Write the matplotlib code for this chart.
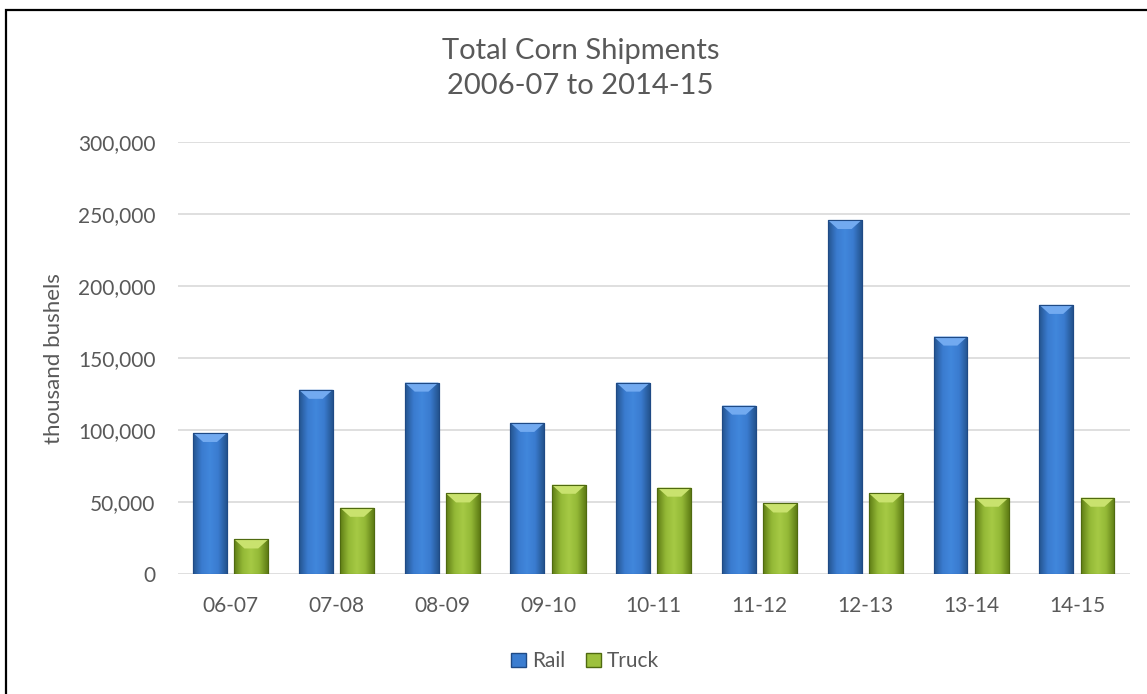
import numpy as np
import matplotlib
matplotlib.use("Agg")
import matplotlib.pyplot as plt
from matplotlib.patches import Polygon, Rectangle, Patch
from matplotlib.colors import LinearSegmentedColormap

plt.rcParams['font.family'] = ['Lato', 'DejaVu Sans']

seasons = ["06-07", "07-08", "08-09", "09-10", "10-11", "11-12", "12-13", "13-14", "14-15"]
rail = [98000, 128000, 133000, 105000, 133000, 117000, 246000, 165000, 187000]
truck = [24000, 46000, 56000, 62000, 60000, 49000, 56000, 53000, 53000]

text_grey = "#595959"

fig = plt.figure(figsize=(11.47, 6.94), dpi=100)
ax = fig.add_axes([0.155, 0.173, 0.830, 0.622])

x = np.arange(len(seasons))
w = 0.32
off = 0.195

rail_bars = ax.bar(x - off, rail, w, color="#3b7dd0", edgecolor="#1f4a85", linewidth=0.8, zorder=3)
truck_bars = ax.bar(x + off, truck, w, color="#9dc13d", edgecolor="#4f6a10", linewidth=0.8, zorder=3)

# bevel look: horizontal gradient plus lighter top facet
blue_cm = LinearSegmentedColormap.from_list("b", ["#24548f", "#3a7bcf", "#4187dc", "#3a7bcf", "#24548f"])
green_cm = LinearSegmentedColormap.from_list("g", ["#5f7d15", "#93b836", "#a6ca45", "#93b836", "#5f7d15"])
grad = np.linspace(0, 1, 64).reshape(1, -1)

def bevel(bars, cmap, top_col):
    for b in bars:
        x0, bw, h = b.get_x(), b.get_width(), b.get_height()
        im = ax.imshow(grad, cmap=cmap, aspect="auto", extent=[x0, x0 + bw, 0, h],
                       zorder=3.1, interpolation="bicubic")
        im.set_clip_path(b)
        inset = 0.095
        dh = 6300
        ax.add_patch(Polygon([[x0, h], [x0 + bw, h], [x0 + bw - inset, h - dh], [x0 + inset, h - dh]],
                             closed=True, facecolor=top_col, edgecolor="none", zorder=3.2))
        ax.add_patch(Rectangle((x0, 0), bw, h, facecolor="none", edgecolor=b.get_edgecolor(),
                               linewidth=0.8, zorder=3.3))

bevel(rail_bars, blue_cm, "#72aaf0")
bevel(truck_bars, green_cm, "#c9e26e")

ax.set_xlim(-0.5, len(seasons) - 0.5)
ax.set_ylim(0, 300000)
ax.set_yticks(np.arange(0, 300001, 50000))
ax.yaxis.set_major_formatter(matplotlib.ticker.FuncFormatter(lambda v, p: f"{int(v):,}"))
ax.set_xticks(x)
ax.set_xticklabels(seasons)
ax.grid(axis="y", color="#d9d9d9", linewidth=1.2, zorder=0)
ax.set_axisbelow(True)
for s in ax.spines.values():
    s.set_visible(False)
ax.tick_params(axis="both", length=0, labelsize=15, colors=text_grey)
ax.tick_params(axis="y", pad=16)
ax.tick_params(axis="x", pad=16)
ax.set_ylabel("thousand bushels", fontsize=16, color=text_grey, labelpad=10)

fig.text(0.506, 0.901, "Total Corn Shipments\n2006-07 to 2014-15", ha="center", va="center",
         fontsize=21, color=text_grey, linespacing=1.45)

handles = [Patch(facecolor="#3b7dd0", edgecolor="#1f4a85", label="Rail"),
           Patch(facecolor="#9dc13d", edgecolor="#4f6a10", label="Truck")]
fig.legend(handles=handles, loc="center", bbox_to_anchor=(0.51, 0.047), ncol=2, frameon=False,
           fontsize=15, handlelength=0.7, handleheight=0.7, handletextpad=0.3, columnspacing=1.0,
           labelcolor=text_grey)

# outer chart frame
fig.patches.append(Rectangle((5.5 / 1147, -0.05), 1.2, 1.05 - 9.5 / 694, transform=fig.transFigure,
                             facecolor="none", edgecolor="black", linewidth=1.6, clip_on=False))

fig.savefig("out.png", dpi=100)
